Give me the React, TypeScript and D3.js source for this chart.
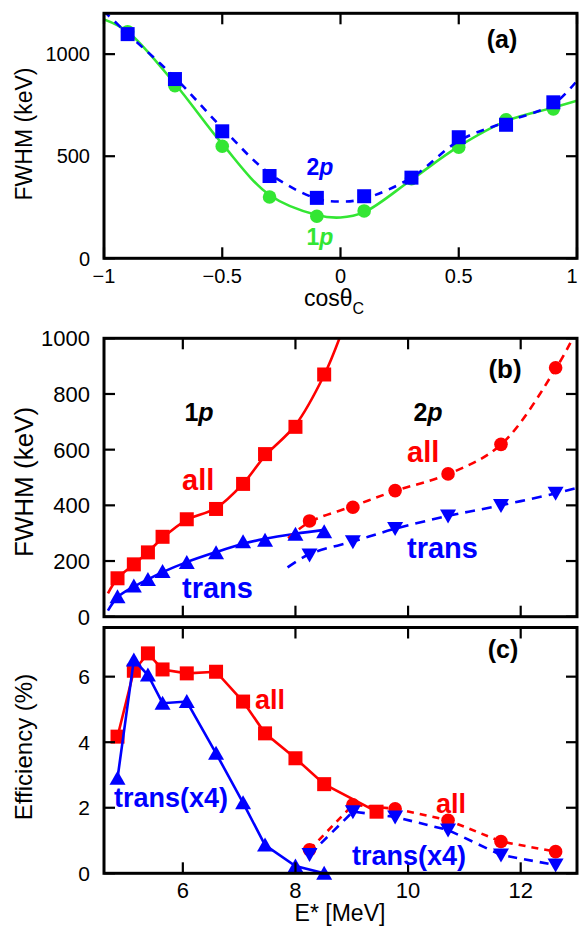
import React from "react";
import * as d3 from "d3";

// ---------- Panel (a) data ----------
const cosX = [-0.9, -0.7, -0.5, -0.3, -0.1, 0.1, 0.3, 0.5, 0.7, 0.9];
const a1p = [1110, 845, 549, 300, 206, 232, 390, 544, 678, 732];
const a2p = [1098, 878, 622, 403, 296, 304, 395, 593, 654, 764];
// fitted curves
const fitCos = [-1, -0.9, -0.7, -0.5, -0.3, -0.1, 0, 0.1, 0.3, 0.5, 0.7, 0.9, 1];
const fitA1p = [1170, 1110, 855, 560, 310, 212, 200, 226, 385, 548, 672, 738, 772];
const fitA2p = [1210, 1100, 885, 638, 415, 292, 278, 292, 395, 575, 668, 755, 870];
const aXTicks = [-1, -0.5, 0, 0.5, 1];
const aYTicks = [0, 500, 1000];

// ---------- Panel (b) data ----------
const E1p = [4.84, 5.13, 5.38, 5.64, 6.07, 6.59, 7.07, 7.46, 8.0, 8.51];
const b1pAll = [138, 188, 231, 287, 350, 387, 477, 584, 682, 870];
const b1pTrans = [72, 110, 134, 162, 195, 230, 269, 275, 296, 305];
const E2p = [8.25, 9.02, 9.77, 10.71, 11.65, 12.62];
const b2pAll = [344, 393, 453, 513, 619, 894];
const b2pTrans = [222, 269, 317, 362, 399, 443];
// fit curves
const fitB1pAllE = [4.67, 4.84, 5.13, 5.38, 5.64, 6.07, 6.59, 7.07, 7.46, 8.0, 8.51, 8.8];
const fitB1pAll = [84, 138, 188, 232, 283, 348, 390, 478, 578, 688, 868, 1010];
const fitB1pTransE = [4.67, 4.84, 5.13, 5.38, 5.64, 6.07, 6.59, 7.07, 7.46, 8.0, 8.51];
const fitB1pTrans = [22, 70, 108, 134, 160, 196, 232, 262, 280, 298, 312];
const fitB2pAllE = [7.87, 8.25, 9.02, 9.77, 10.71, 11.65, 12.62, 12.95];
const fitB2pAll = [282, 340, 397, 452, 512, 618, 890, 1010];
const fitB2pTransE = [7.86, 8.25, 9.02, 9.77, 10.71, 11.65, 12.62, 13.0];
const fitB2pTrans = [177, 225, 270, 316, 362, 400, 443, 463];
const bYTicks = [0, 200, 400, 600, 800, 1000];
const eTicks = [6, 8, 10, 12];

// ---------- Panel (c) data ----------
const Ec1pAll = [4.84, 5.13, 5.38, 5.64, 6.07, 6.59, 7.07, 7.46, 8.0, 8.51, 9.44];
const c1pAll = [4.17, 6.18, 6.71, 6.22, 6.1, 6.15, 5.24, 4.27, 3.51, 2.72, 1.88];
const c1pTrans = [2.9, 6.51, 6.05, 5.19, 5.24, 3.66, 2.15, 0.86, 0.22, 0.0];
const c2pAll = [0.72, 2.09, 1.97, 1.62, 0.97, 0.66];
const c2pTrans = [0.57, 1.88, 1.72, 1.32, 0.56, 0.25];
const cYTicks = [0, 2, 4, 6];

const RED = "#ff0000";
const BLUE = "#0000ff";
const GREEN = "#33e633";
const FONT = "'Liberation Sans', Arial, Helvetica, sans-serif";

const L = 104, R = 577;
const A = { top: 13.3, bottom: 258.3 };
const B = { top: 338.3, bottom: 616.7 };
const C = { top: 627.5, bottom: 873.3 };

const xA = d3.scaleLinear().domain([-1, 1]).range([L, R]);
const yA = d3.scaleLinear().domain([0, 1200]).range([A.bottom, A.top]);
const xE = d3.scaleLinear().domain([4.6, 13]).range([L, R]);
const yB = d3.scaleLinear().domain([0, 1000]).range([B.bottom, B.top]);
const yC = d3.scaleLinear().domain([0, 7.5]).range([C.bottom, C.top]);

type Pt = [number, number];
const zip = (xs: number[], ys: number[]): Pt[] => xs.map((x, i) => [x, ys[i]]);

function Marker({ kind, x, y, color }: { kind: string; x: number; y: number; color: string }) {
  if (kind === "sq") return <rect x={x - 7} y={y - 7} width={14} height={14} fill={color} />;
  if (kind === "ci") return <circle cx={x} cy={y} r={6.8} fill={color} />;
  if (kind === "up")
    return <path d={`M${x},${y - 7.5}L${x + 8},${y + 6.5}L${x - 8},${y + 6.5}Z`} fill={color} />;
  return <path d={`M${x},${y + 7.5}L${x + 8},${y - 6.5}L${x - 8},${y - 6.5}Z`} fill={color} />;
}

function Frame({
  top, bottom, xs, xScale, ys, yScale, tick = 11,
}: {
  top: number; bottom: number; xs: number[]; xScale: any; ys: number[]; yScale: any; tick?: number;
}) {
  return (
    <g>
      {xs.map((t) => (
        <g key={"x" + t}>
          <line x1={xScale(t)} x2={xScale(t)} y1={bottom} y2={bottom - tick} stroke="#000" strokeWidth={2.2} />
          <line x1={xScale(t)} x2={xScale(t)} y1={top} y2={top + tick} stroke="#000" strokeWidth={2.2} />
        </g>
      ))}
      {ys.map((t) => (
        <g key={"y" + t}>
          <line x1={L} x2={L + tick} y1={yScale(t)} y2={yScale(t)} stroke="#000" strokeWidth={2.2} />
          <line x1={R} x2={R - tick} y1={yScale(t)} y2={yScale(t)} stroke="#000" strokeWidth={2.2} />
        </g>
      ))}
      <rect x={L} y={top} width={R - L} height={bottom - top} fill="none" stroke="#000" strokeWidth={3} />
    </g>
  );
}

const fmtMinus = (v: number) => (v < 0 ? "\u2212" + Math.abs(v) : String(v));

export default function App() {
  const lineA = d3.line<Pt>().x((d) => xA(d[0])).y((d) => yA(d[1])).curve(d3.curveCatmullRom.alpha(0.5));
  const lineB = d3.line<Pt>().x((d) => xE(d[0])).y((d) => yB(d[1])).curve(d3.curveCatmullRom.alpha(0.5));
  const lineC = d3.line<Pt>().x((d) => xE(d[0])).y((d) => yC(d[1]));

  return (
    <div style={{ position: "absolute", left: 0, top: 0 }}>
      <svg width={579} height={926} style={{ display: "block", background: "#fff" }} fontFamily={FONT}>
        <defs>
          <clipPath id="clipA"><rect x={L} y={A.top} width={R - L} height={A.bottom - A.top} /></clipPath>
          <clipPath id="clipB"><rect x={L} y={B.top} width={R - L} height={B.bottom - B.top} /></clipPath>
        </defs>

        {/* ---------------- Panel (a) ---------------- */}
        <g clipPath="url(#clipA)">
          <path d={lineA(zip(fitCos, fitA1p)) || ""} fill="none" stroke={GREEN} strokeWidth={2.6} />
        </g>
        {cosX.map((c, i) => <Marker key={"a1" + i} kind="ci" x={xA(c)} y={yA(a1p[i])} color={GREEN} />)}
        <g clipPath="url(#clipA)">
          <path d={lineA(zip(fitCos, fitA2p)) || ""} fill="none" stroke={BLUE} strokeWidth={2.6} strokeDasharray="8,7" />
        </g>
        {cosX.map((c, i) => <Marker key={"a2" + i} kind="sq" x={xA(c)} y={yA(a2p[i])} color={BLUE} />)}
        <Frame top={A.top} bottom={A.bottom} xs={aXTicks} xScale={xA} ys={aYTicks} yScale={yA} />
        {aYTicks.map((t) => (
          <text key={"ayl" + t} x={90} y={yA(t)} dy="0.36em" textAnchor="end" fontSize={20}>{t}</text>
        ))}
        {aXTicks.map((t) => (
          <text key={"axl" + t} x={Math.min(xA(t), 572)} y={283} textAnchor="middle" fontSize={20}>{fmtMinus(t)}</text>
        ))}
        <text x={334} y={306} textAnchor="middle" fontSize={23}>
          cosθ<tspan fontSize={16} dy={8}>C</tspan>
        </text>
        <text transform={`translate(32,${134}) rotate(-90)`} textAnchor="middle" fontSize={23}>FWHM (keV)</text>
        <text x={502} y={48} textAnchor="middle" fontSize={25} fontWeight="bold">(a)</text>
        <text x={320} y={175} textAnchor="middle" fontSize={23} fontWeight="bold" fill={BLUE}>
          2<tspan fontStyle="italic">p</tspan>
        </text>
        <text x={320} y={245} textAnchor="middle" fontSize={23} fontWeight="bold" fill={GREEN}>
          1<tspan fontStyle="italic">p</tspan>
        </text>

        {/* ---------------- Panel (b) ---------------- */}
        <g clipPath="url(#clipB)">
          <path d={lineB(zip(fitB1pAllE, fitB1pAll)) || ""} fill="none" stroke={RED} strokeWidth={2.6} />
          <path d={lineB(zip(fitB1pTransE, fitB1pTrans)) || ""} fill="none" stroke={BLUE} strokeWidth={2.6} />
          <path d={lineB(zip(fitB2pAllE, fitB2pAll)) || ""} fill="none" stroke={RED} strokeWidth={2.6} strokeDasharray="8,6" />
          <path d={lineB(zip(fitB2pTransE, fitB2pTrans)) || ""} fill="none" stroke={BLUE} strokeWidth={2.6} strokeDasharray="10,7" />
        </g>
        {E1p.map((e, i) => <Marker key={"b1a" + i} kind="sq" x={xE(e)} y={yB(b1pAll[i])} color={RED} />)}
        {E1p.map((e, i) => <Marker key={"b1t" + i} kind="up" x={xE(e)} y={yB(b1pTrans[i])} color={BLUE} />)}
        {E2p.map((e, i) => <Marker key={"b2a" + i} kind="ci" x={xE(e)} y={yB(b2pAll[i])} color={RED} />)}
        {E2p.map((e, i) => <Marker key={"b2t" + i} kind="dn" x={xE(e)} y={yB(b2pTrans[i])} color={BLUE} />)}
        <Frame top={B.top} bottom={B.bottom} xs={eTicks} xScale={xE} ys={bYTicks} yScale={yB} />
        {bYTicks.map((t) => (
          <text key={"byl" + t} x={90} y={yB(t)} dy="0.36em" textAnchor="end" fontSize={22}>{t}</text>
        ))}
        <text transform={`translate(33,${482}) rotate(-90)`} textAnchor="middle" fontSize={26}>FWHM (keV)</text>
        <text x={505} y={378} textAnchor="middle" fontSize={26} fontWeight="bold">(b)</text>
        <text x={199} y={421} textAnchor="middle" fontSize={25} fontWeight="bold">
          1<tspan fontStyle="italic">p</tspan>
        </text>
        <text x={428} y={421} textAnchor="middle" fontSize={25} fontWeight="bold">
          2<tspan fontStyle="italic">p</tspan>
        </text>
        <text x={182} y={490} fontSize={29} fontWeight="bold" fill={RED}>all</text>
        <text x={407} y={462} fontSize={29} fontWeight="bold" fill={RED}>all</text>
        <text x={182} y={598} fontSize={29} fontWeight="bold" fill={BLUE}>trans</text>
        <text x={407} y={558} fontSize={29} fontWeight="bold" fill={BLUE}>trans</text>

        {/* ---------------- Panel (c) ---------------- */}
        <path d={lineC(zip(E2p, c2pAll)) || ""} fill="none" stroke={RED} strokeWidth={2.6} strokeDasharray="7,6" />
        {E2p.map((e, i) => <Marker key={"c2a" + i} kind="ci" x={xE(e)} y={yC(c2pAll[i])} color={RED} />)}
        <path d={lineC(zip(E2p, c2pTrans)) || ""} fill="none" stroke={BLUE} strokeWidth={2.6} strokeDasharray="9,7" />
        {E2p.map((e, i) => <Marker key={"c2t" + i} kind="dn" x={xE(e)} y={yC(c2pTrans[i])} color={BLUE} />)}
        <path d={lineC(zip(Ec1pAll, c1pAll)) || ""} fill="none" stroke={RED} strokeWidth={2.6} />
        {Ec1pAll.map((e, i) => <Marker key={"c1a" + i} kind="sq" x={xE(e)} y={yC(c1pAll[i])} color={RED} />)}
        <path d={lineC(zip(E1p, c1pTrans)) || ""} fill="none" stroke={BLUE} strokeWidth={2.6} />
        {E1p.map((e, i) => <Marker key={"c1t" + i} kind="up" x={xE(e)} y={yC(c1pTrans[i])} color={BLUE} />)}
        <Frame top={C.top} bottom={C.bottom} xs={eTicks} xScale={xE} ys={cYTicks} yScale={yC} />
        {cYTicks.map((t) => (
          <text key={"cyl" + t} x={90} y={yC(t)} dy="0.36em" textAnchor="end" fontSize={21}>{t}</text>
        ))}
        {eTicks.map((t) => (
          <text key={"cxl" + t} x={xE(t)} y={898} textAnchor="middle" fontSize={22}>{t}</text>
        ))}
        <text x={340} y={921} textAnchor="middle" fontSize={23}>E* [MeV]</text>
        <text transform={`translate(32,${747}) rotate(-90)`} textAnchor="middle" fontSize={24}>Efficiency (%)</text>
        <text x={503} y={658} textAnchor="middle" fontSize={25} fontWeight="bold">(c)</text>
        <text x={255} y={709} fontSize={27} fontWeight="bold" fill={RED}>all</text>
        <text x={436} y={813} fontSize={27} fontWeight="bold" fill={RED}>all</text>
        <text x={114} y={807} fontSize={27} fontWeight="bold" fill={BLUE}>trans(x4)</text>
        <text x={352} y={865} fontSize={27} fontWeight="bold" fill={BLUE}>trans(x4)</text>
      </svg>
    </div>
  );
}
